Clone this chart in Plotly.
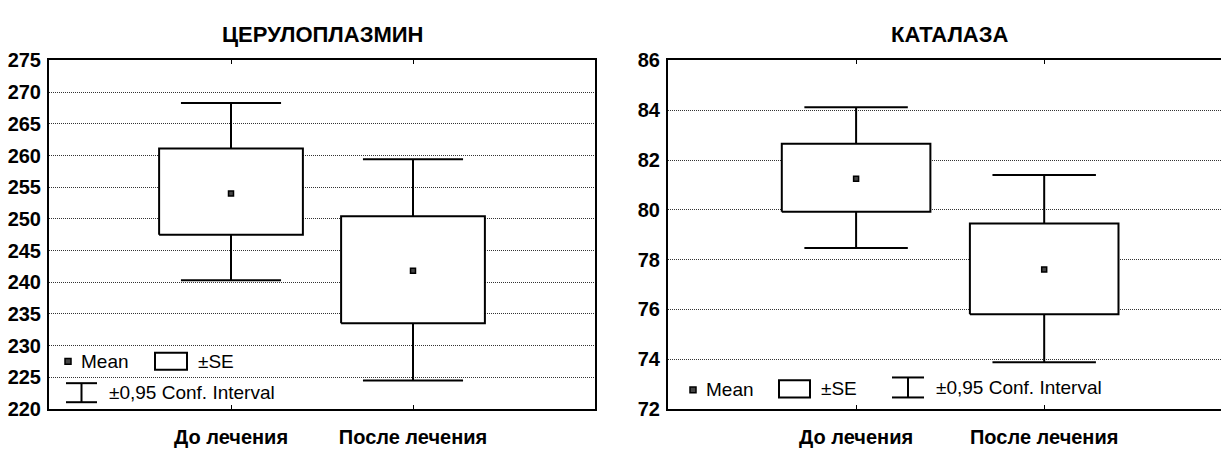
import plotly.graph_objects as go

W, H = 1221, 457

# Group labels
categories = ["До лечения", "После лечения"]
cat_pos = [1, 2]

# Церулоплазмин: mean, ±SE, ±0.95 CI
cer_mean = [254.0, 241.8]
cer_se_low = [247.5, 233.5]
cer_se_high = [261.1, 250.4]
cer_ci_low = [240.3, 224.5]
cer_ci_high = [268.3, 259.4]

# Каталаза: mean, ±SE, ±0.95 CI
cat_mean = [81.25, 77.6]
cat_se_low = [79.92, 75.8]
cat_se_high = [82.65, 79.45]
cat_ci_low = [78.47, 73.87]
cat_ci_high = [84.12, 81.4]

cer_yticks = list(range(220, 276, 5))
cat_yticks = list(range(72, 87, 2))

FONT = "Arial, Liberation Sans, sans-serif"
BOX_HALF = 0.395
CAP_HALF = 0.275


def px(x):
    return x / W


def py(y):
    return 1 - y / H


fig = go.Figure()

panels = [
    ("x", "y", cer_mean, cer_se_low, cer_se_high, cer_ci_low, cer_ci_high),
    ("x2", "y2", cat_mean, cat_se_low, cat_se_high, cat_ci_low, cat_ci_high),
]
line_style = dict(color="black", width=2)
for xa, ya, mean, se_lo, se_hi, ci_lo, ci_hi in panels:
    for c, m, sl, sh, cl, ch in zip(cat_pos, mean, se_lo, se_hi, ci_lo, ci_hi):
        # whiskers (±0.95 CI) with caps
        wx = [c - CAP_HALF, c + CAP_HALF, None, c, c, None,
              c, c, None, c - CAP_HALF, c + CAP_HALF]
        wy = [ch, ch, None, ch, sh, None, sl, cl, None, cl, cl]
        fig.add_trace(go.Scatter(x=wx, y=wy, mode="lines", line=line_style,
                                 showlegend=False, xaxis=xa, yaxis=ya,
                                 hoverinfo="skip"))
        # ±SE box
        bx = [c - BOX_HALF, c + BOX_HALF, c + BOX_HALF, c - BOX_HALF, c - BOX_HALF]
        by = [sl, sl, sh, sh, sl]
        fig.add_trace(go.Scatter(x=bx, y=by, mode="lines", fill="toself",
                                 fillcolor="white", line=line_style,
                                 showlegend=False, xaxis=xa, yaxis=ya,
                                 hoverinfo="skip"))
    fig.add_trace(go.Scatter(
        x=cat_pos, y=mean, mode="markers",
        marker=dict(symbol="square", size=5, color="#444",
                    line=dict(color="black", width=1.5)),
        showlegend=False, xaxis=xa, yaxis=ya,
    ))

y_top, y_bot = 52, 418
ydom = [py(y_bot), py(y_top)]

common_x = dict(
    showline=True, linecolor="black", linewidth=2, mirror="ticks",
    ticks="inside", ticklen=4, tickcolor="black", tickwidth=1,
    tickvals=cat_pos, ticktext=categories, showgrid=False, zeroline=False,
    tickfont=dict(family=FONT, size=20, color="black", weight="bold"),
    ticklabelstandoff=9,
)
common_y = dict(
    showline=True, linecolor="black", linewidth=2, ticks="",
    showgrid=True, gridcolor="#333", gridwidth=1, griddash="1px,1px",
    zeroline=False,
    tickfont=dict(family=FONT, size=20, color="black", weight="bold"),
    ticklabelstandoff=2,
)

fig.update_layout(
    width=W, height=H, margin=dict(l=0, r=0, t=0, b=0),
    paper_bgcolor="white", plot_bgcolor="white",
    xaxis=dict(domain=[px(49), px(595)], range=[0, 3], anchor="y", **common_x),
    yaxis=dict(domain=ydom, range=[220, 275], tickvals=cer_yticks,
               mirror=True, anchor="x", **common_y),
    xaxis2=dict(domain=[px(668), 1.0], range=[0, 2.94], anchor="y2", **common_x),
    yaxis2=dict(domain=ydom, range=[72, 86], tickvals=cat_yticks,
                mirror=False, anchor="x2", **common_y),
)

title_font = dict(family=FONT, size=22, color="black", weight="bold")
legend_font = dict(family=FONT, size=19, color="black")

annotations = [
    dict(text="ЦЕРУЛОПЛАЗМИН", x=px(322), y=py(25), font=title_font),
    dict(text="КАТАЛАЗА", x=px(950), y=py(25), font=title_font),
]
shapes = []


def legend_items(mean_xy, mean_text_x, box, se_text_x, ci, ci_text_x, ci_text_y):
    mx, my = mean_xy
    shapes.append(dict(type="rect", x0=px(mx - 3), x1=px(mx + 3),
                       y0=py(my + 3), y1=py(my - 3),
                       fillcolor="#444", line=dict(color="black", width=1.5)))
    annotations.append(dict(text="Mean", x=px(mean_text_x), y=py(my),
                            xanchor="left", font=legend_font))
    bx0, by0, bx1, by1 = box
    shapes.append(dict(type="rect", x0=px(bx0), x1=px(bx1),
                       y0=py(by1), y1=py(by0), fillcolor="white",
                       line=dict(color="black", width=2)))
    annotations.append(dict(text="±SE", x=px(se_text_x), y=py((by0 + by1) / 2),
                            xanchor="left", font=legend_font))
    cx0, cy0, cx1, cy1 = ci
    cxm = (cx0 + cx1) / 2
    for seg in [(cx0, cy0, cx1, cy0), (cx0, cy1, cx1, cy1), (cxm, cy0, cxm, cy1)]:
        shapes.append(dict(type="line", x0=px(seg[0]), y0=py(seg[1]),
                           x1=px(seg[2]), y1=py(seg[3]),
                           line=dict(color="black", width=2)))
    annotations.append(dict(text="±0,95 Conf. Interval", x=px(ci_text_x),
                            y=py(ci_text_y), xanchor="left", font=legend_font))


legend_items((68, 368), 79, (155, 359, 187, 377), 196, (66, 391, 97, 411), 107, 401)
legend_items((693, 398), 704, (779, 388, 810, 406), 819, (892, 385, 924, 406), 934, 396)

for a in annotations:
    a.update(xref="paper", yref="paper", showarrow=False)
    a.setdefault("xanchor", "center")
    a.setdefault("yanchor", "middle")
for s in shapes:
    s.update(xref="paper", yref="paper")

fig.update_layout(annotations=annotations, shapes=shapes)

fig.write_html("out.html")
